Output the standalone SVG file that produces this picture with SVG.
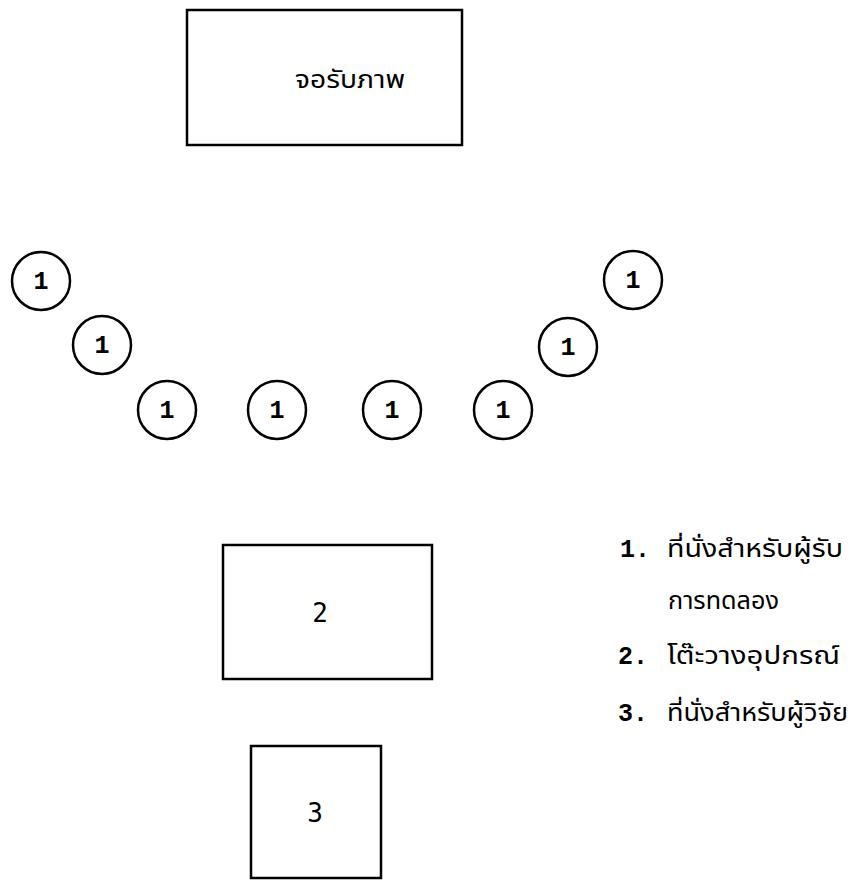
<svg xmlns="http://www.w3.org/2000/svg" width="868" height="880" viewBox="0 0 868 880">
<style>
.box{fill:none;stroke:#000;stroke-width:2.5}
.seat{fill:#fff;stroke:#000;stroke-width:2.5}
.num{font-family:"Liberation Mono",monospace;font-size:25px;font-weight:bold;fill:#000;text-anchor:middle}
.lbl{font-family:"DejaVu Sans Mono","Liberation Mono",monospace;font-size:26px;fill:#000;text-anchor:middle}
.th{font-family:"Noto Sans Thai","Noto Sans","DejaVu Sans",sans-serif;font-size:24px;font-weight:normal;fill:#000}
.lg{font-family:"Liberation Mono",monospace;font-size:25px;font-weight:bold;fill:#000}
</style>
<rect width="868" height="880" fill="#fff"/>
<g id="connectors"></g>
<g id="screen">
<rect class="box" x="187" y="10" width="275" height="135"/>
<text class="th" x="295" y="88" textLength="110" lengthAdjust="spacingAndGlyphs">จอรับภาพ</text>
</g>
<g id="seat1"><circle class="seat" cx="41" cy="281" r="29"/><text class="num" x="41" y="289">1</text></g>
<g id="seat2"><circle class="seat" cx="102" cy="345" r="29"/><text class="num" x="102" y="353">1</text></g>
<g id="seat3"><circle class="seat" cx="167" cy="410" r="29"/><text class="num" x="167" y="418">1</text></g>
<g id="seat4"><circle class="seat" cx="277" cy="410" r="29"/><text class="num" x="277" y="418">1</text></g>
<g id="seat5"><circle class="seat" cx="392" cy="410" r="29"/><text class="num" x="392" y="418">1</text></g>
<g id="seat6"><circle class="seat" cx="503" cy="410" r="29"/><text class="num" x="503" y="418">1</text></g>
<g id="seat7"><circle class="seat" cx="568" cy="347" r="29"/><text class="num" x="568" y="355">1</text></g>
<g id="seat8"><circle class="seat" cx="633" cy="280" r="29"/><text class="num" x="633" y="288">1</text></g>
<g id="table">
<rect class="box" x="223" y="545" width="209" height="134"/>
<text class="lbl" x="320" y="622">2</text>
</g>
<g id="researcher">
<rect class="box" x="251" y="746" width="130" height="132"/>
<text class="lbl" x="315" y="822">3</text>
</g>
<g id="legend">
<text class="lg" x="620" y="557">1.<tspan class="th" x="667" textLength="176" lengthAdjust="spacingAndGlyphs">ที่นั่งสำหรับผู้รับ</tspan></text>
<text class="th" x="668" y="609" textLength="111" lengthAdjust="spacingAndGlyphs">การทดลอง</text>
<text class="lg" x="618" y="664">2.<tspan class="th" x="667" textLength="173" lengthAdjust="spacingAndGlyphs">โต๊ะวางอุปกรณ์</tspan></text>
<text class="lg" x="618" y="721">3.<tspan class="th" x="667" textLength="181" lengthAdjust="spacingAndGlyphs">ที่นั่งสำหรับผู้วิจัย</tspan></text>
</g>
</svg>
